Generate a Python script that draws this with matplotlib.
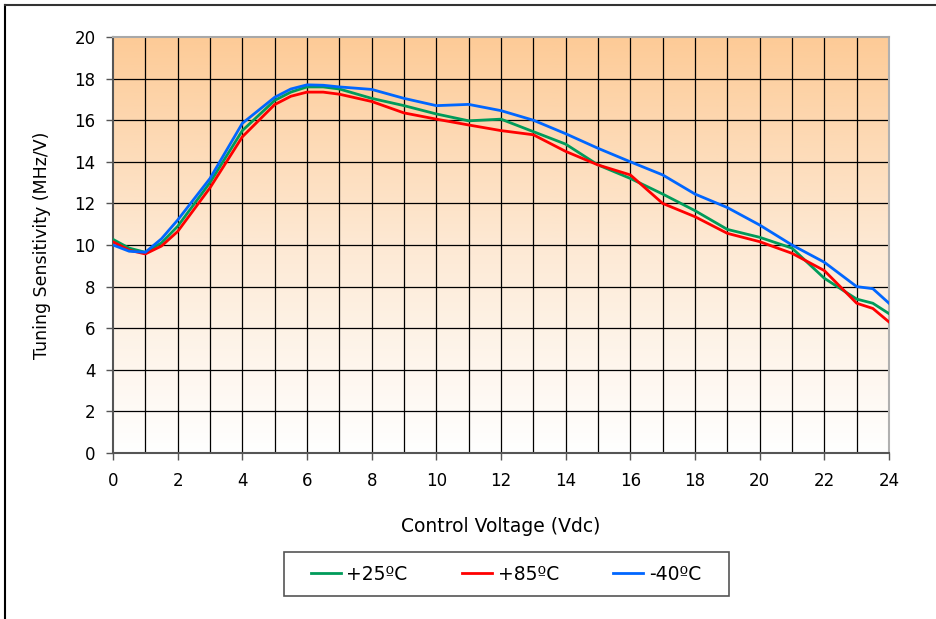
import numpy as np
import matplotlib
matplotlib.use("Agg")
import matplotlib.pyplot as plt
from matplotlib.lines import Line2D
from matplotlib.patches import Rectangle
from matplotlib.colors import LinearSegmentedColormap

# --- data ---
x_v = [0, 0.5, 1, 1.5, 2, 3, 4, 5, 5.5, 6, 6.5, 7, 8, 9, 10, 11, 12, 13, 14,
       15, 16, 17, 18, 19, 20, 21, 22, 23, 23.5, 24]

t25 = [10.27, 9.85, 9.65, 10.1, 10.9, 13.0, 15.5, 16.95, 17.35, 17.6, 17.6, 17.5,
       17.05, 16.7, 16.3, 15.97, 16.05, 15.45, 14.85, 13.85, 13.2, 12.45, 11.65,
       10.75, 10.37, 9.85, 8.4, 7.4, 7.2, 6.7]
t85 = [10.15, 9.75, 9.57, 9.95, 10.65, 12.75, 15.2, 16.75, 17.15, 17.35, 17.35, 17.25,
       16.9, 16.35, 16.05, 15.77, 15.5, 15.3, 14.5, 13.85, 13.37, 12.0, 11.36,
       10.56, 10.16, 9.6, 8.77, 7.2, 6.95, 6.3]
tm40 = [10.0, 9.7, 9.65, 10.3, 11.2, 13.2, 15.85, 17.1, 17.5, 17.7, 17.68, 17.6,
        17.48, 17.05, 16.7, 16.76, 16.46, 16.0, 15.35, 14.65, 14.0, 13.37, 12.45,
        11.8, 10.96, 10.0, 9.17, 8.0, 7.9, 7.2]

series = [("+25ºC", t25, "#009B5A"), ("+85ºC", t85, "#FF0000"), ("-40ºC", tm40, "#0066FF")]

W, H = 937, 619
fig = plt.figure(figsize=(W / 100, H / 100), dpi=100)
ax = fig.add_axes([113 / W, 1 - 453 / H, (889 - 113) / W, (453 - 37) / H])

# gradient background
cmap = LinearSegmentedColormap.from_list("bg", ["#FFFFFF", "#FDE9D4", "#FDCB97"])
grad = np.linspace(0, 1, 256).reshape(-1, 1)
ax.imshow(grad, extent=[0, 24, 0, 20], origin="lower", aspect="auto", cmap=cmap, zorder=0)

# grid
for xv in range(1, 24):
    ax.axvline(xv, color="black", lw=0.9, zorder=1)
for yv in range(2, 20, 2):
    ax.axhline(yv, color="black", lw=0.9, zorder=1)

for label, vals, col in series:
    ax.plot(x_v, vals, color=col, lw=2.0, label=label, zorder=3, solid_joinstyle="round")

ax.set_xlim(0, 24)
ax.set_ylim(0, 20)
ax.set_xticks(range(0, 25, 2))
ax.set_yticks(range(0, 21, 2))
ax.tick_params(labelsize=12, length=5, width=1, color="#555555")
ax.tick_params(axis="x", pad=9)
ax.tick_params(axis="y", pad=7.5)

ax.spines["left"].set_color("#555555")
ax.spines["bottom"].set_color("#555555")
ax.spines["top"].set_color("#A8A8A8")
ax.spines["right"].set_color("#B0B0B0")
for s in ax.spines.values():
    s.set_linewidth(1.5)

ax.set_xlabel("Control Voltage (Vdc)", fontsize=13.5, labelpad=19)
ax.set_ylabel("Tuning Sensitivity (MHz/V)", fontsize=12.5, labelpad=17)

# legend (text/handles) with a separately drawn box
leg = fig.legend(loc="center", bbox_to_anchor=(506 / W, 1 - 574 / H), ncol=3,
                 fontsize=13.5, frameon=False,
                 handlelength=1.6, handletextpad=0.3, columnspacing=2.9,
                 borderpad=0, borderaxespad=0)
fig.add_artist(Rectangle((284 / W, 1 - 596 / H), (729 - 284) / W, 44 / H,
                         transform=fig.transFigure, facecolor="none",
                         edgecolor="#555555", lw=1.2))

# outer frame
fig.add_artist(Line2D([5 / W, 5 / W], [0, 1 - 5 / H], color="black", lw=1.5))
fig.add_artist(Line2D([5 / W, 1], [1 - 5 / H, 1 - 5 / H], color="#333333", lw=1.5))

fig.savefig("out.png", dpi=100, facecolor="white")
